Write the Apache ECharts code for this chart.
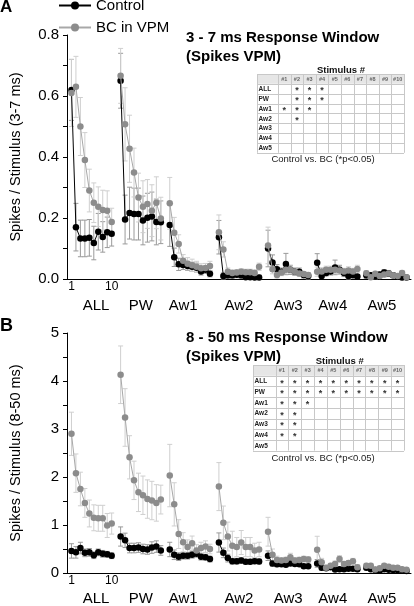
<!DOCTYPE html>
<html>
<head>
<meta charset="utf-8">
<script src="https://cdn.jsdelivr.net/npm/echarts@6/dist/echarts.min.js"></script>
<style>html,body{margin:0;padding:0;background:#fff}#c{width:414px;height:606px}</style>
</head>
<body>
<div id="c"></div>
<script>
// ---------- data ----------
const groups = ['ALL', 'PW', 'Aw1', 'Aw2', 'Aw3', 'Aw4', 'Aw5'];
const groupLabelPos = [6.5, 16.5, 26, 38.5, 49.5, 59.5, 70.5];
const stimTickLabels = {1: '1', 10: '10'};
const stimCols = ['#1', '#2', '#3', '#4', '#5', '#6', '#7', '#8', '#9', '#10'];

// Panel A: 3-7 ms window (rows = groups, columns = stimulus 1..10)
const aCtrl = [
  [0.62, 0.17, 0.133, 0.133, 0.135, 0.118, 0.155, 0.138, 0.153, 0.148],
  [0.65, 0.195, 0.216, 0.213, 0.213, 0.192, 0.201, 0.205, 0.187, 0.186],
  [0.177, 0.071, 0.048, 0.046, 0.043, 0.04, 0.037, 0.025, 0.03, 0.017],
  [0.137, 0.01, 0.012, 0.012, 0.014, 0.012, 0.006, 0.006, 0.005, 0.005],
  [0.10, 0.054, 0.032, 0.024, 0.049, 0.03, 0.024, 0.024, 0.013, 0.01],
  [0.053, 0.01, 0.02, 0.025, 0.038, 0.03, 0.02, 0.01, 0.012, 0.008],
  [0.012, 0.012, 0.008, 0.015, 0.021, 0.018, 0.012, 0.008, 0.005, 0.005]
];
const aCtrlErr = [
  [0.10, 0.078, 0.06, 0.06, 0.06, 0.055, 0.06, 0.05, 0.05, 0.04],
  [0.09, 0.08, 0.085, 0.085, 0.085, 0.08, 0.08, 0.08, 0.075, 0.07],
  [0.07, 0.03, 0.02, 0.015, 0.015, 0.015, 0.015, 0.012, 0.012, 0.01],
  [0.055, 0.01, 0.01, 0.01, 0.01, 0.01, 0.008, 0.008, 0.008, 0.008],
  [0.06, 0.025, 0.015, 0.012, 0.035, 0.015, 0.012, 0.012, 0.01, 0.01],
  [0.03, 0.008, 0.01, 0.012, 0.024, 0.015, 0.012, 0.01, 0.008, 0.006],
  [0.01, 0.008, 0.008, 0.008, 0.01, 0.01, 0.008, 0.006, 0.005, 0.005]
];
const aBc = [
  [0.61, 0.63, 0.50, 0.39, 0.29, 0.25, 0.237, 0.226, 0.224, 0.187],
  [0.666, 0.507, 0.427, 0.349, 0.267, 0.237, 0.246, 0.224, 0.25, 0.198],
  [0.248, 0.152, 0.115, 0.06, 0.05, 0.045, 0.04, 0.035, 0.036, 0.043],
  [0.153, 0.097, 0.024, 0.02, 0.021, 0.024, 0.022, 0.022, 0.02, 0.04],
  [0.11, 0.032, 0.013, 0.021, 0.03, 0.03, 0.024, 0.018, 0.016, 0.013],
  [0.024, 0.025, 0.03, 0.03, 0.03, 0.028, 0.025, 0.028, 0.025, 0.033],
  [0.019, 0.006, 0.017, 0.01, 0.015, 0.018, 0.012, 0.01, 0.02, 0.006]
];
const aBcErr = [
  [0.11, 0.10, 0.095, 0.09, 0.07, 0.065, 0.065, 0.065, 0.065, 0.045],
  [0.09, 0.12, 0.11, 0.08, 0.08, 0.085, 0.08, 0.085, 0.085, 0.07],
  [0.085, 0.05, 0.03, 0.02, 0.02, 0.02, 0.018, 0.015, 0.015, 0.015],
  [0.057, 0.025, 0.012, 0.01, 0.01, 0.01, 0.01, 0.01, 0.01, 0.012],
  [0.06, 0.015, 0.01, 0.01, 0.01, 0.012, 0.01, 0.01, 0.008, 0.008],
  [0.015, 0.012, 0.012, 0.012, 0.012, 0.012, 0.01, 0.012, 0.01, 0.012],
  [0.008, 0.006, 0.008, 0.006, 0.008, 0.008, 0.006, 0.006, 0.008, 0.005]
];

// Panel B: 8-50 ms window
const bCtrl = [
  [0.46, 0.43, 0.52, 0.42, 0.43, 0.37, 0.43, 0.40, 0.39, 0.36],
  [0.76, 0.68, 0.52, 0.52, 0.53, 0.50, 0.49, 0.53, 0.55, 0.47],
  [0.49, 0.38, 0.34, 0.36, 0.36, 0.38, 0.40, 0.34, 0.33, 0.29],
  [0.635, 0.42, 0.31, 0.245, 0.245, 0.26, 0.235, 0.235, 0.245, 0.24],
  [0.36, 0.20, 0.18, 0.18, 0.17, 0.20, 0.19, 0.18, 0.14, 0.14],
  [0.20, 0.11, 0.10, 0.12, 0.075, 0.08, 0.08, 0.09, 0.09, 0.08],
  [0.11, 0.08, 0.06, 0.05, 0.08, 0.07, 0.06, 0.06, 0.06, 0.04]
];
const bCtrlErr = [
  [0.15, 0.12, 0.12, 0.08, 0.08, 0.07, 0.07, 0.07, 0.06, 0.06],
  [0.2, 0.15, 0.1, 0.1, 0.1, 0.1, 0.1, 0.12, 0.12, 0.1],
  [0.15, 0.1, 0.08, 0.07, 0.07, 0.07, 0.07, 0.07, 0.06, 0.06],
  [0.2, 0.1, 0.08, 0.06, 0.06, 0.06, 0.05, 0.05, 0.05, 0.05],
  [0.1, 0.06, 0.05, 0.04, 0.04, 0.04, 0.04, 0.04, 0.03, 0.03],
  [0.08, 0.05, 0.04, 0.04, 0.03, 0.03, 0.03, 0.03, 0.03, 0.03],
  [0.04, 0.03, 0.03, 0.03, 0.03, 0.03, 0.03, 0.03, 0.03, 0.02]
];
const bBc = [
  [2.9, 2.08, 1.75, 1.46, 1.24, 1.15, 1.14, 1.14, 0.99, 1.03],
  [4.13, 3.24, 2.41, 1.93, 1.68, 1.62, 1.54, 1.51, 1.46, 1.53],
  [2.03, 1.43, 0.81, 0.64, 0.54, 0.62, 0.47, 0.52, 0.55, 0.50],
  [1.80, 1.045, 0.76, 0.57, 0.54, 0.635, 0.54, 0.54, 0.47, 0.49],
  [0.86, 0.38, 0.27, 0.26, 0.27, 0.33, 0.26, 0.27, 0.29, 0.28],
  [0.485, 0.225, 0.11, 0.15, 0.19, 0.29, 0.19, 0.21, 0.245, 0.12],
  [0.15, 0.15, 0.075, 0.10, 0.15, 0.13, 0.11, 0.11, 0.08, 0.07]
];
const bBcErr = [
  [0.45, 0.40, 0.35, 0.30, 0.28, 0.27, 0.27, 0.27, 0.25, 0.22],
  [0.6, 0.6, 0.45, 0.4, 0.4, 0.4, 0.4, 0.4, 0.38, 0.3],
  [0.65, 0.45, 0.3, 0.2, 0.15, 0.15, 0.12, 0.12, 0.12, 0.1],
  [0.5, 0.35, 0.3, 0.3, 0.2, 0.25, 0.2, 0.2, 0.15, 0.15],
  [0.3, 0.12, 0.08, 0.06, 0.06, 0.08, 0.06, 0.06, 0.06, 0.06],
  [0.28, 0.08, 0.05, 0.05, 0.06, 0.07, 0.05, 0.05, 0.06, 0.05],
  [0.05, 0.05, 0.04, 0.04, 0.05, 0.05, 0.04, 0.04, 0.04, 0.03]
];

// Significance tables (stimulus numbers with *)
const aStars = [[2, 3, 4], [2, 3, 4], [1, 2, 3], [2], [], [], []];
const bStars = [[1,2,3,4,5,6,7,8,9,10], [1,2,3,4,5,6,7,8,9,10], [1, 2, 3], [1, 2], [1, 2], [1, 2], []];

// ---------- helpers ----------
const FONT = "'Liberation Sans', Arial, Helvetica, sans-serif";
function xPos(g, i) { return g * 11 + i + 1; }
function lineData(vals) {
  const out = [];
  vals.forEach((row, g) => {
    row.forEach((v, i) => out.push([xPos(g, i), v]));
    if (g < vals.length - 1) out.push([xPos(g, 10), '-']);
  });
  return out;
}
function errData(vals, errs) {
  const out = [];
  vals.forEach((row, g) => row.forEach((v, i) => out.push([xPos(g, i), v, errs[g][i]])));
  return out;
}
function errRender(color) {
  return function (params, api) {
    const x = api.value(0), y = api.value(1), e = api.value(2);
    const t = api.coord([x, y + e]);
    const b = api.coord([x, Math.max(0, y - e)]);
    const hw = 2.5;
    const st = { stroke: color, lineWidth: 1 };
    return {
      type: 'group', children: [
        { type: 'line', shape: { x1: t[0], y1: t[1], x2: b[0], y2: b[1] }, style: st },
        { type: 'line', shape: { x1: t[0] - hw, y1: t[1], x2: t[0] + hw, y2: t[1] }, style: st },
        { type: 'line', shape: { x1: b[0] - hw, y1: b[1], x2: b[0] + hw, y2: b[1] }, style: st }
      ]
    };
  };
}
const CTRL = '#000000', BC = '#8c8c8c', BCLINE = '#a8a8a8';

function panelSeries(k, ctrl, ctrlErr, bc, bcErr) {
  return [
    { type: 'custom', name: 'errC' + k, xAxisIndex: 2 * k, yAxisIndex: k, data: errData(ctrl, ctrlErr), renderItem: errRender('#9a9a9a'), z: 1, silent: true },
    { type: 'custom', name: 'errB' + k, xAxisIndex: 2 * k, yAxisIndex: k, data: errData(bc, bcErr), renderItem: errRender('#cfcfcf'), z: 1, silent: true },
    { type: 'line', name: 'Control', xAxisIndex: 2 * k, yAxisIndex: k, data: lineData(ctrl), symbol: 'circle', symbolSize: 6.5,
      lineStyle: { color: CTRL, width: 1 }, itemStyle: { color: CTRL }, z: 3 },
    { type: 'line', name: 'BC in VPM', xAxisIndex: 2 * k, yAxisIndex: k, data: lineData(bc), symbol: 'circle', symbolSize: 6.5,
      lineStyle: { color: BCLINE, width: 1 }, itemStyle: { color: BC }, z: 4 }
  ];
}

function mainX(grid) {
  return {
    type: 'value', gridIndex: grid, position: 'bottom', min: 0, max: 77, interval: 1,
    axisLine: { show: true, lineStyle: { color: '#000', width: 1 } },
    axisTick: { show: false }, splitLine: { show: false },
    axisLabel: { margin: 2, fontSize: 12, color: '#000', fontFamily: FONT,
      formatter: v => stimTickLabels[Math.round(v)] && Math.abs(v - Math.round(v)) < 1e-6 ? stimTickLabels[Math.round(v)] : '' }
  };
}
function groupX(grid, margin) {
  return {
    type: 'value', gridIndex: grid, position: 'bottom', min: 0, max: 77, interval: 0.5,
    axisLine: { show: false }, axisTick: { show: false }, splitLine: { show: false },
    axisLabel: { margin: margin, fontSize: 15, color: '#000', fontFamily: FONT, showMinLabel: true, showMaxLabel: true,
      formatter: v => { const j = groupLabelPos.findIndex(p => Math.abs(p - v) < 1e-6); return j >= 0 ? groups[j] : ''; } }
  };
}

// ---------- significance table graphics ----------
function makeTable(x0, y0, w0, cw, rh, stars, noteY) {
  const els = [];
  const W = w0 + cw * 10, H = rh * 8;
  els.push({ type: 'rect', shape: { x: x0, y: y0, width: W, height: rh }, style: { fill: '#e6e6e6' }, silent: true });
  for (let r = 0; r <= 8; r++) {
    const y = Math.round(y0 + r * rh) + 0.5;
    els.push({ type: 'line', shape: { x1: x0, y1: y, x2: x0 + W, y2: y }, style: { stroke: '#c8c8c8', lineWidth: 1 }, silent: true });
  }
  for (let c = 0; c <= 11; c++) {
    const x = Math.round(c === 0 ? x0 : x0 + w0 + (c - 1) * cw) + 0.5;
    els.push({ type: 'line', shape: { x1: x, y1: y0, x2: x, y2: y0 + H }, style: { stroke: '#c8c8c8', lineWidth: 1 }, silent: true });
  }
  els.push({ type: 'text', x: x0 + w0 + cw * 5, y: y0 - 4, style: { text: 'Stimulus #', align: 'center', verticalAlign: 'middle', font: 'bold 9.5px ' + FONT, fill: '#111' }, silent: true });
  stimCols.forEach((s, c) => {
    els.push({ type: 'text', x: x0 + w0 + (c + 0.5) * cw, y: y0 + rh / 2 + 0.5, style: { text: s, align: 'center', verticalAlign: 'middle', font: 'bold 5.5px ' + FONT, fill: '#666' }, silent: true });
  });
  groups.forEach((g, r) => {
    const cy = y0 + (r + 1.5) * rh;
    els.push({ type: 'text', x: x0 + 1.5, y: cy + 0.5, style: { text: g, align: 'left', verticalAlign: 'middle', font: 'bold 6.5px ' + FONT, fill: '#222' }, silent: true });
    stars[r].forEach(n => {
      els.push({ type: 'text', x: x0 + w0 + (n - 0.5) * cw, y: cy + 2, style: { text: '*', align: 'center', verticalAlign: 'middle', font: 'bold 9px ' + FONT, fill: '#333' }, silent: true });
    });
  });
  els.push({ type: 'text', x: 323, y: noteY, style: { text: 'Control vs. BC (*p<0.05)', align: 'center', verticalAlign: 'middle', font: '9.5px ' + FONT, fill: '#222' }, silent: true });
  return els;
}

const chart = echarts.init(document.getElementById('c'), null, { renderer: 'canvas' });
const option = {
  animation: false,
  backgroundColor: '#fff',
  textStyle: { fontFamily: FONT },
  title: [
    { text: 'A', left: 0, top: -1, padding: 0, textStyle: { fontSize: 17, fontWeight: 'bold', color: '#000', fontFamily: FONT } },
    { text: 'B', left: 0, top: 317, padding: 0, textStyle: { fontSize: 18, fontWeight: 'bold', color: '#000', fontFamily: FONT } },
    { text: '3 - 7 ms Response Window\n(Spikes VPM)', left: 186, top: 28, padding: 0,
      textStyle: { fontSize: 15, fontWeight: 'bold', lineHeight: 19, color: '#000', fontFamily: FONT } },
    { text: '8 - 50 ms Response Window\n(Spikes VPM)', left: 186, top: 328, padding: 0,
      textStyle: { fontSize: 15, fontWeight: 'bold', lineHeight: 19, color: '#000', fontFamily: FONT } }
  ],
  legend: {
    data: ['Control', 'BC in VPM'], orient: 'vertical', left: 58, top: -2, padding: 0,
    itemWidth: 32, itemHeight: 10, itemGap: 7,
    textStyle: { fontSize: 15, color: '#000', fontFamily: FONT }
  },
  grid: [
    { left: 58, right: 1, top: 35, height: 244 },
    { left: 58, right: 1, top: 333, height: 244 }
  ],
  xAxis: [mainX(0), groupX(0, 19.5), mainX(1), groupX(1, 18)],
  yAxis: [
    { type: 'value', gridIndex: 0, min: 0, max: 0.8, interval: 0.1,
      name: 'Spikes / Stimulus (3-7 ms)', nameLocation: 'middle', nameGap: 44,
      nameTextStyle: { fontSize: 14.5, color: '#000', fontFamily: FONT },
      axisLine: { show: true, lineStyle: { color: '#000', width: 1 } },
      axisTick: { show: true, length: 4, lineStyle: { color: '#000' } }, splitLine: { show: false },
      axisLabel: { margin: 8, fontSize: 15, color: '#000', fontFamily: FONT,
        formatter: v => (Math.round(v * 10) % 2 === 0 ? v.toFixed(1) : '') } },
    { type: 'value', gridIndex: 1, min: 0, max: 5, interval: 0.5,
      name: 'Spikes / Stimulus (8-50 ms)', nameLocation: 'middle', nameGap: 44,
      nameTextStyle: { fontSize: 14.5, color: '#000', fontFamily: FONT },
      axisLine: { show: true, lineStyle: { color: '#000', width: 1 } },
      axisTick: { show: true, length: 4, lineStyle: { color: '#000' } }, splitLine: { show: false },
      axisLabel: { margin: 8, fontSize: 15, color: '#000', fontFamily: FONT,
        formatter: v => (Math.abs(v - Math.round(v)) < 1e-6 ? String(Math.round(v)) : '') } }
  ],
  series: [].concat(
    panelSeries(0, aCtrl, aCtrlErr, aBc, aBcErr),
    panelSeries(1, bCtrl, bCtrlErr, bBc, bBcErr)
  ),
  graphic: [].concat(
    makeTable(257, 74, 21, 12.6, 9.85, aStars, 159),
    makeTable(253, 365, 22.5, 12.85, 10.7, bStars, 458)
  )
};
chart.setOption(option);
</script>
</body>
</html>
